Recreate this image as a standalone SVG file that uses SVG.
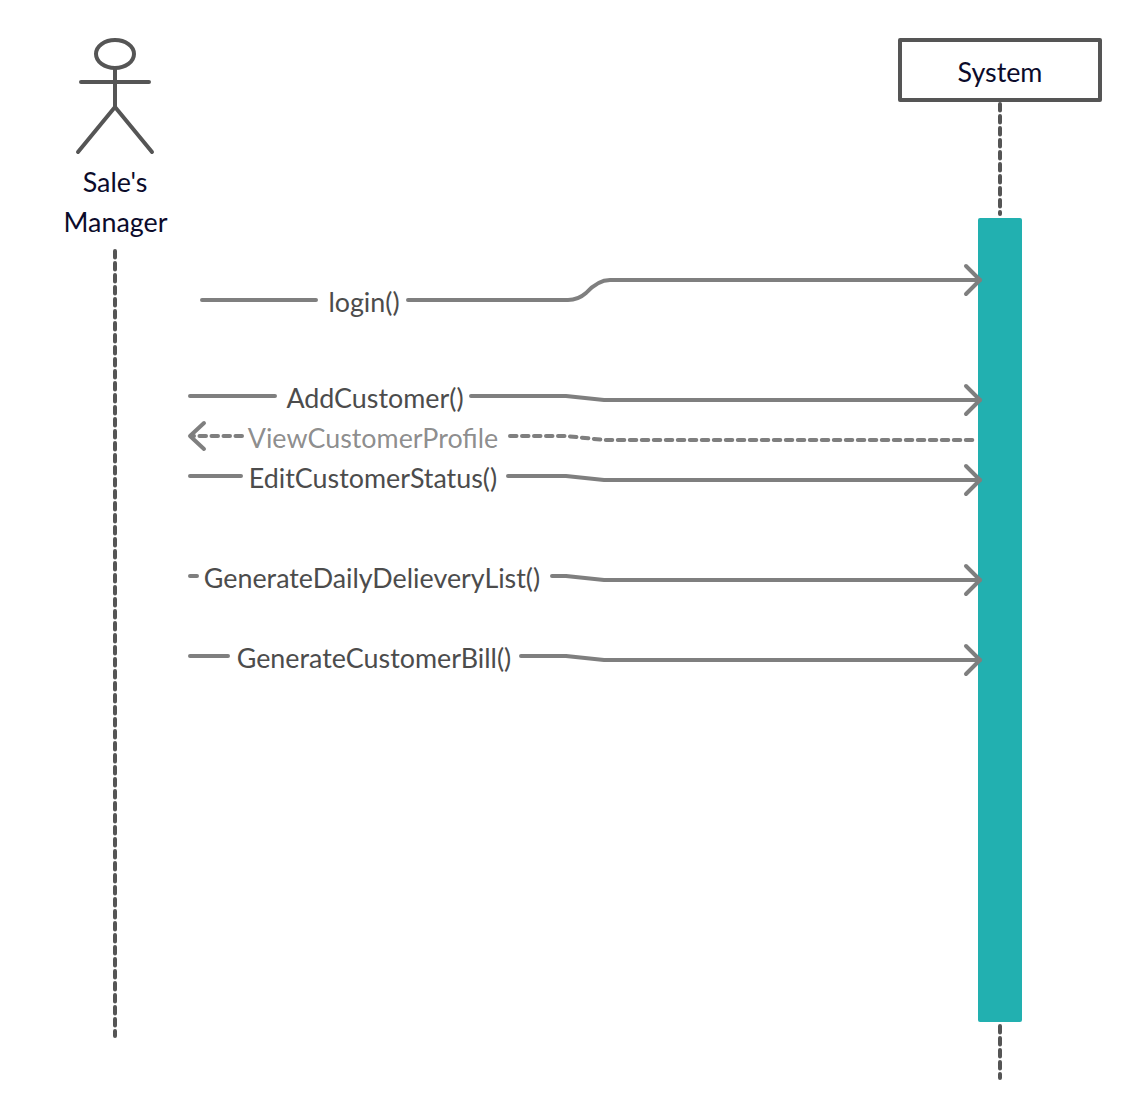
<svg xmlns="http://www.w3.org/2000/svg" width="1140" height="1120" viewBox="0 0 1140 1120">
<style>
text{font-family:Lato,"Liberation Sans",sans-serif;font-size:26.85px;text-anchor:middle}
.name{fill:#0b0b2b}
.lab{fill:#4c4c4c}
.fig{fill:none;stroke:#555;stroke-width:4;stroke-linecap:round;stroke-linejoin:round}
.life{fill:none;stroke:#555;stroke-width:4;stroke-dasharray:6.500 5.500;stroke-linecap:round}
.c{fill:none;stroke:#7f7f7f;stroke-width:4;stroke-linecap:round;stroke-linejoin:round}
.d{stroke-dasharray:6.500 5.500}
.h{fill:none;stroke:#7f7f7f;stroke-width:4;stroke-linecap:round;stroke-linejoin:round}
</style>
<rect width="1140" height="1120" fill="#fff"/>
<g id="actor">
<ellipse class="fig" cx="115" cy="54" rx="19" ry="14"/>
<path class="fig" d="M115 68V107M81 82H149M115 107L78 152M115 107L152 152"/>
<text class="name" x="115" y="192">Sale's</text>
<text class="name" x="115.500" y="232">Manager</text>
</g>
<g id="system">
<rect x="900" y="40" width="200" height="60" fill="#fff" stroke="#555" stroke-width="4" stroke-linejoin="round"/>
<text class="name" x="1000" y="82">System</text>
</g>
<g id="lifelines">
<path class="life" d="M115 251V1036"/>
<path class="life" d="M1000 104V214M1000 1026V1078"/>
</g>
<g id="activation"><rect x="978" y="218" width="44" height="804" rx="2" fill="#22b0b0"/></g>
<g id="connectors">
<path class="c" d="M202 300H316M408 300H568Q578 300 586 293Q598 280 610 280H980"/>
<path class="h" d="M966 266L980 280L966 294"/>
<path class="c" d="M190 396H275M471 396H566L604 400H980"/>
<path class="h" d="M966 386L980 400L966 414"/>
<path class="c d" d="M242 436H192M510 436H566L604 440H975"/>
<path class="h" d="M204 423L190 436L204 449"/>
<path class="c" d="M190 476H241M508 476H566L604 480H980"/>
<path class="h" d="M966 466L980 480L966 494"/>
<path class="c" d="M190 576H197M552 576H566L604 580H980"/>
<path class="h" d="M966 566L980 580L966 594"/>
<path class="c" d="M190 656H228M521 656H566L604 660H980"/>
<path class="h" d="M966 646L980 660L966 674"/>
</g>
<g id="labels">
<text class="lab" x="364" y="312">login()</text>
<text class="lab" x="375" y="408">AddCustomer()</text>
<text class="lab" x="373" y="448" fill-opacity="0.65">ViewCustomerProfile</text>
<text class="lab" x="373" y="488">EditCustomerStatus()</text>
<text class="lab" x="372" y="588">GenerateDailyDelieveryList()</text>
<text class="lab" x="374" y="668">GenerateCustomerBill()</text>
</g>
</svg>
